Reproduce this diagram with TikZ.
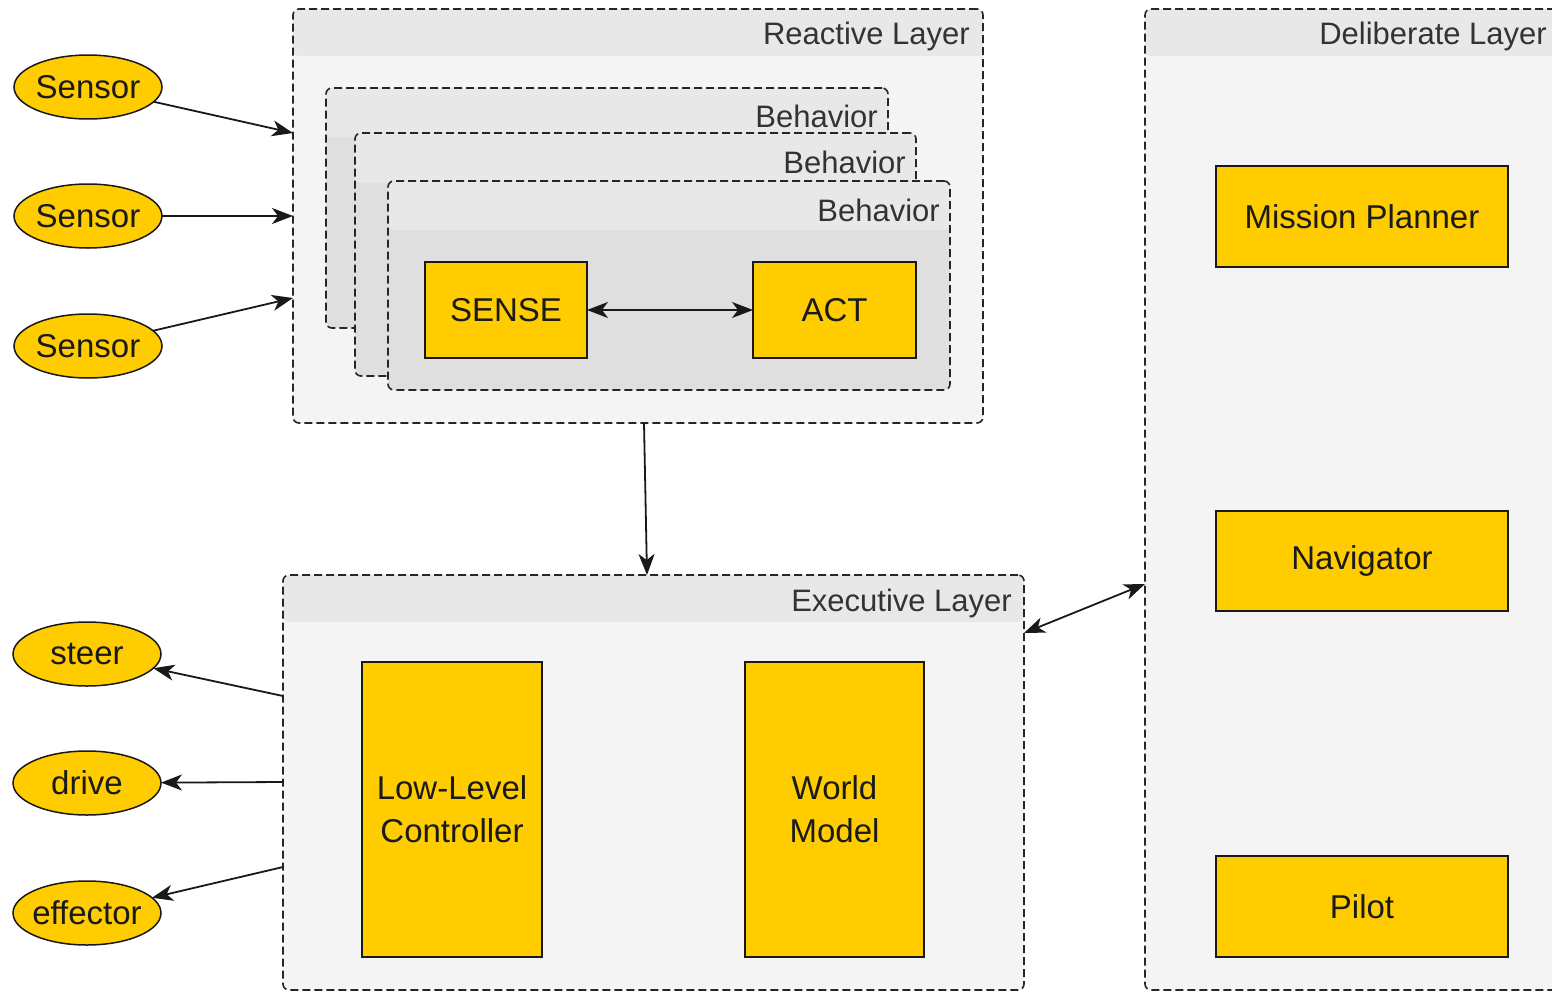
\documentclass[tikz,border=0pt]{standalone}
\usepackage{fontspec}
\setmainfont{Liberation Sans}
\usetikzlibrary{shapes.geometric,arrows.meta}
\definecolor{ylw}{HTML}{FFCC00}
\definecolor{bodyc}{HTML}{F4F4F4}
\definecolor{headc}{HTML}{E8E8E8}
\definecolor{bbody}{HTML}{DFDFDF}
\definecolor{txt}{HTML}{1A1A1A}
\begin{document}
\begin{tikzpicture}[x=1pt,y=-1pt,
  layer/.style n args={2}{draw=black!85, dash pattern=on 8pt off 4pt, line width=1.6pt,
    rounded corners=6pt, fill=#1, anchor=north west, inner sep=0pt, outer sep=0pt,
    path picture={\fill[headc] (path picture bounding box.north west) rectangle ([yshift=-#2]path picture bounding box.north east);}},
  title/.style={font=\fontsize{31}{36}\selectfont, text=black!80, anchor=base east, inner sep=0pt},
  box/.style={draw=black!90, line width=1.5pt, fill=ylw, inner sep=0pt, outer sep=0pt, align=center,
    text=txt, font=\fontsize{33}{43}\selectfont},
  oval/.style={ellipse, draw=black!90, line width=1.5pt, fill=ylw, inner sep=0pt, outer sep=0pt,
    minimum width=148pt, minimum height=64pt, text=txt, font=\fontsize{33}{43}\selectfont},
  conn/.style={draw=black!90, line width=1.8pt, -{Stealth[length=21pt,width=16pt,inset=6pt]}},
  dconn/.style={draw=black!90, line width=1.8pt, {Stealth[length=21pt,width=16pt,inset=6pt]}-{Stealth[length=21pt,width=16pt,inset=6pt]}}
]
\useasboundingbox (0,0) rectangle (1552,993);
\fill[white] (0,0) rectangle (1552,993);

% Reactive layer
\node[layer={bodyc}{47pt}, minimum width=690pt, minimum height=414pt] (reactive) at (293,9) {};
\node[title] (rtitle) at (970,44) {Reactive Layer};
\node[layer={bbody}{49pt}, minimum width=562pt, minimum height=240pt] (beh1) at (326,88) {};
\node[title] (b1title) at (878,127) {Behavior};
\node[layer={bbody}{50pt}, minimum width=561pt, minimum height=243pt] (beh2) at (355,133) {};
\node[title] (b2title) at (906,173) {Behavior};
\node[layer={bbody}{49pt}, minimum width=562pt, minimum height=209pt] (beh3) at (388,181) {};
\node[title] (b3title) at (940,221) {Behavior};
\node[box, minimum width=162pt, minimum height=96pt] (sense) at (506,310) {SENSE};
\node[box, minimum width=163pt, minimum height=96pt] (act) at (834.5,310) {ACT};
\draw[dconn] (sense) -- (act);

% Executive layer
\node[layer={bodyc}{47pt}, minimum width=741pt, minimum height=415pt] (exec) at (283,575) {};
\node[title] (etitle) at (1012,611) {Executive Layer};
\node[box, minimum width=180pt, minimum height=295pt] (llc) at (452,809.5) {Low-Level\\Controller};
\node[box, minimum width=179pt, minimum height=295pt] (wm) at (834.5,809.5) {World\\Model};

% Deliberate layer
\node[layer={bodyc}{47pt}, minimum width=440pt, minimum height=981pt] (delib) at (1145,9) {};
\node[title] (dtitle) at (1547,44) {Deliberate Layer};
\node[box, minimum width=292pt, minimum height=101pt] (mp) at (1362,216.5) {Mission Planner};
\node[box, minimum width=292pt, minimum height=100pt] (nav) at (1362,561) {Navigator};
\node[box, minimum width=292pt, minimum height=101pt] (pilot) at (1362,906.5) {Pilot};

% Sensors
\node[oval] (s1) at (88,87) {\makebox[0pt]{Sensor}};
\node[oval] (s2) at (88,216) {\makebox[0pt]{Sensor}};
\node[oval] (s3) at (88,346) {\makebox[0pt]{Sensor}};
\coordinate (r1) at (293,133);
\coordinate (r2) at (293,216);
\coordinate (r3) at (293,298);
\draw[conn] (s1) -- (r1);
\draw[conn] (s2) -- (r2);
\draw[conn] (s3) -- (r3);

% Effectors
\node[oval] (steer) at (87,654) {\makebox[0pt]{steer}};
\node[oval] (drive) at (87,783) {\makebox[0pt]{drive}};
\node[oval] (eff) at (87,913) {\makebox[0pt]{effector}};
\coordinate (e1) at (283,696);
\coordinate (e2) at (283,782);
\coordinate (e3) at (283,867);
\draw[conn] (e1) -- (steer);
\draw[conn] (e2) -- (drive);
\draw[conn] (e3) -- (eff);

% Layer connections
\coordinate (rb) at (644,423);
\coordinate (et) at (647,575);
\draw[conn] (rb) -- (et);
\coordinate (er) at (1024,633);
\coordinate (dl) at (1145,584);
\draw[dconn] (er) -- (dl);
\end{tikzpicture}
\end{document}
